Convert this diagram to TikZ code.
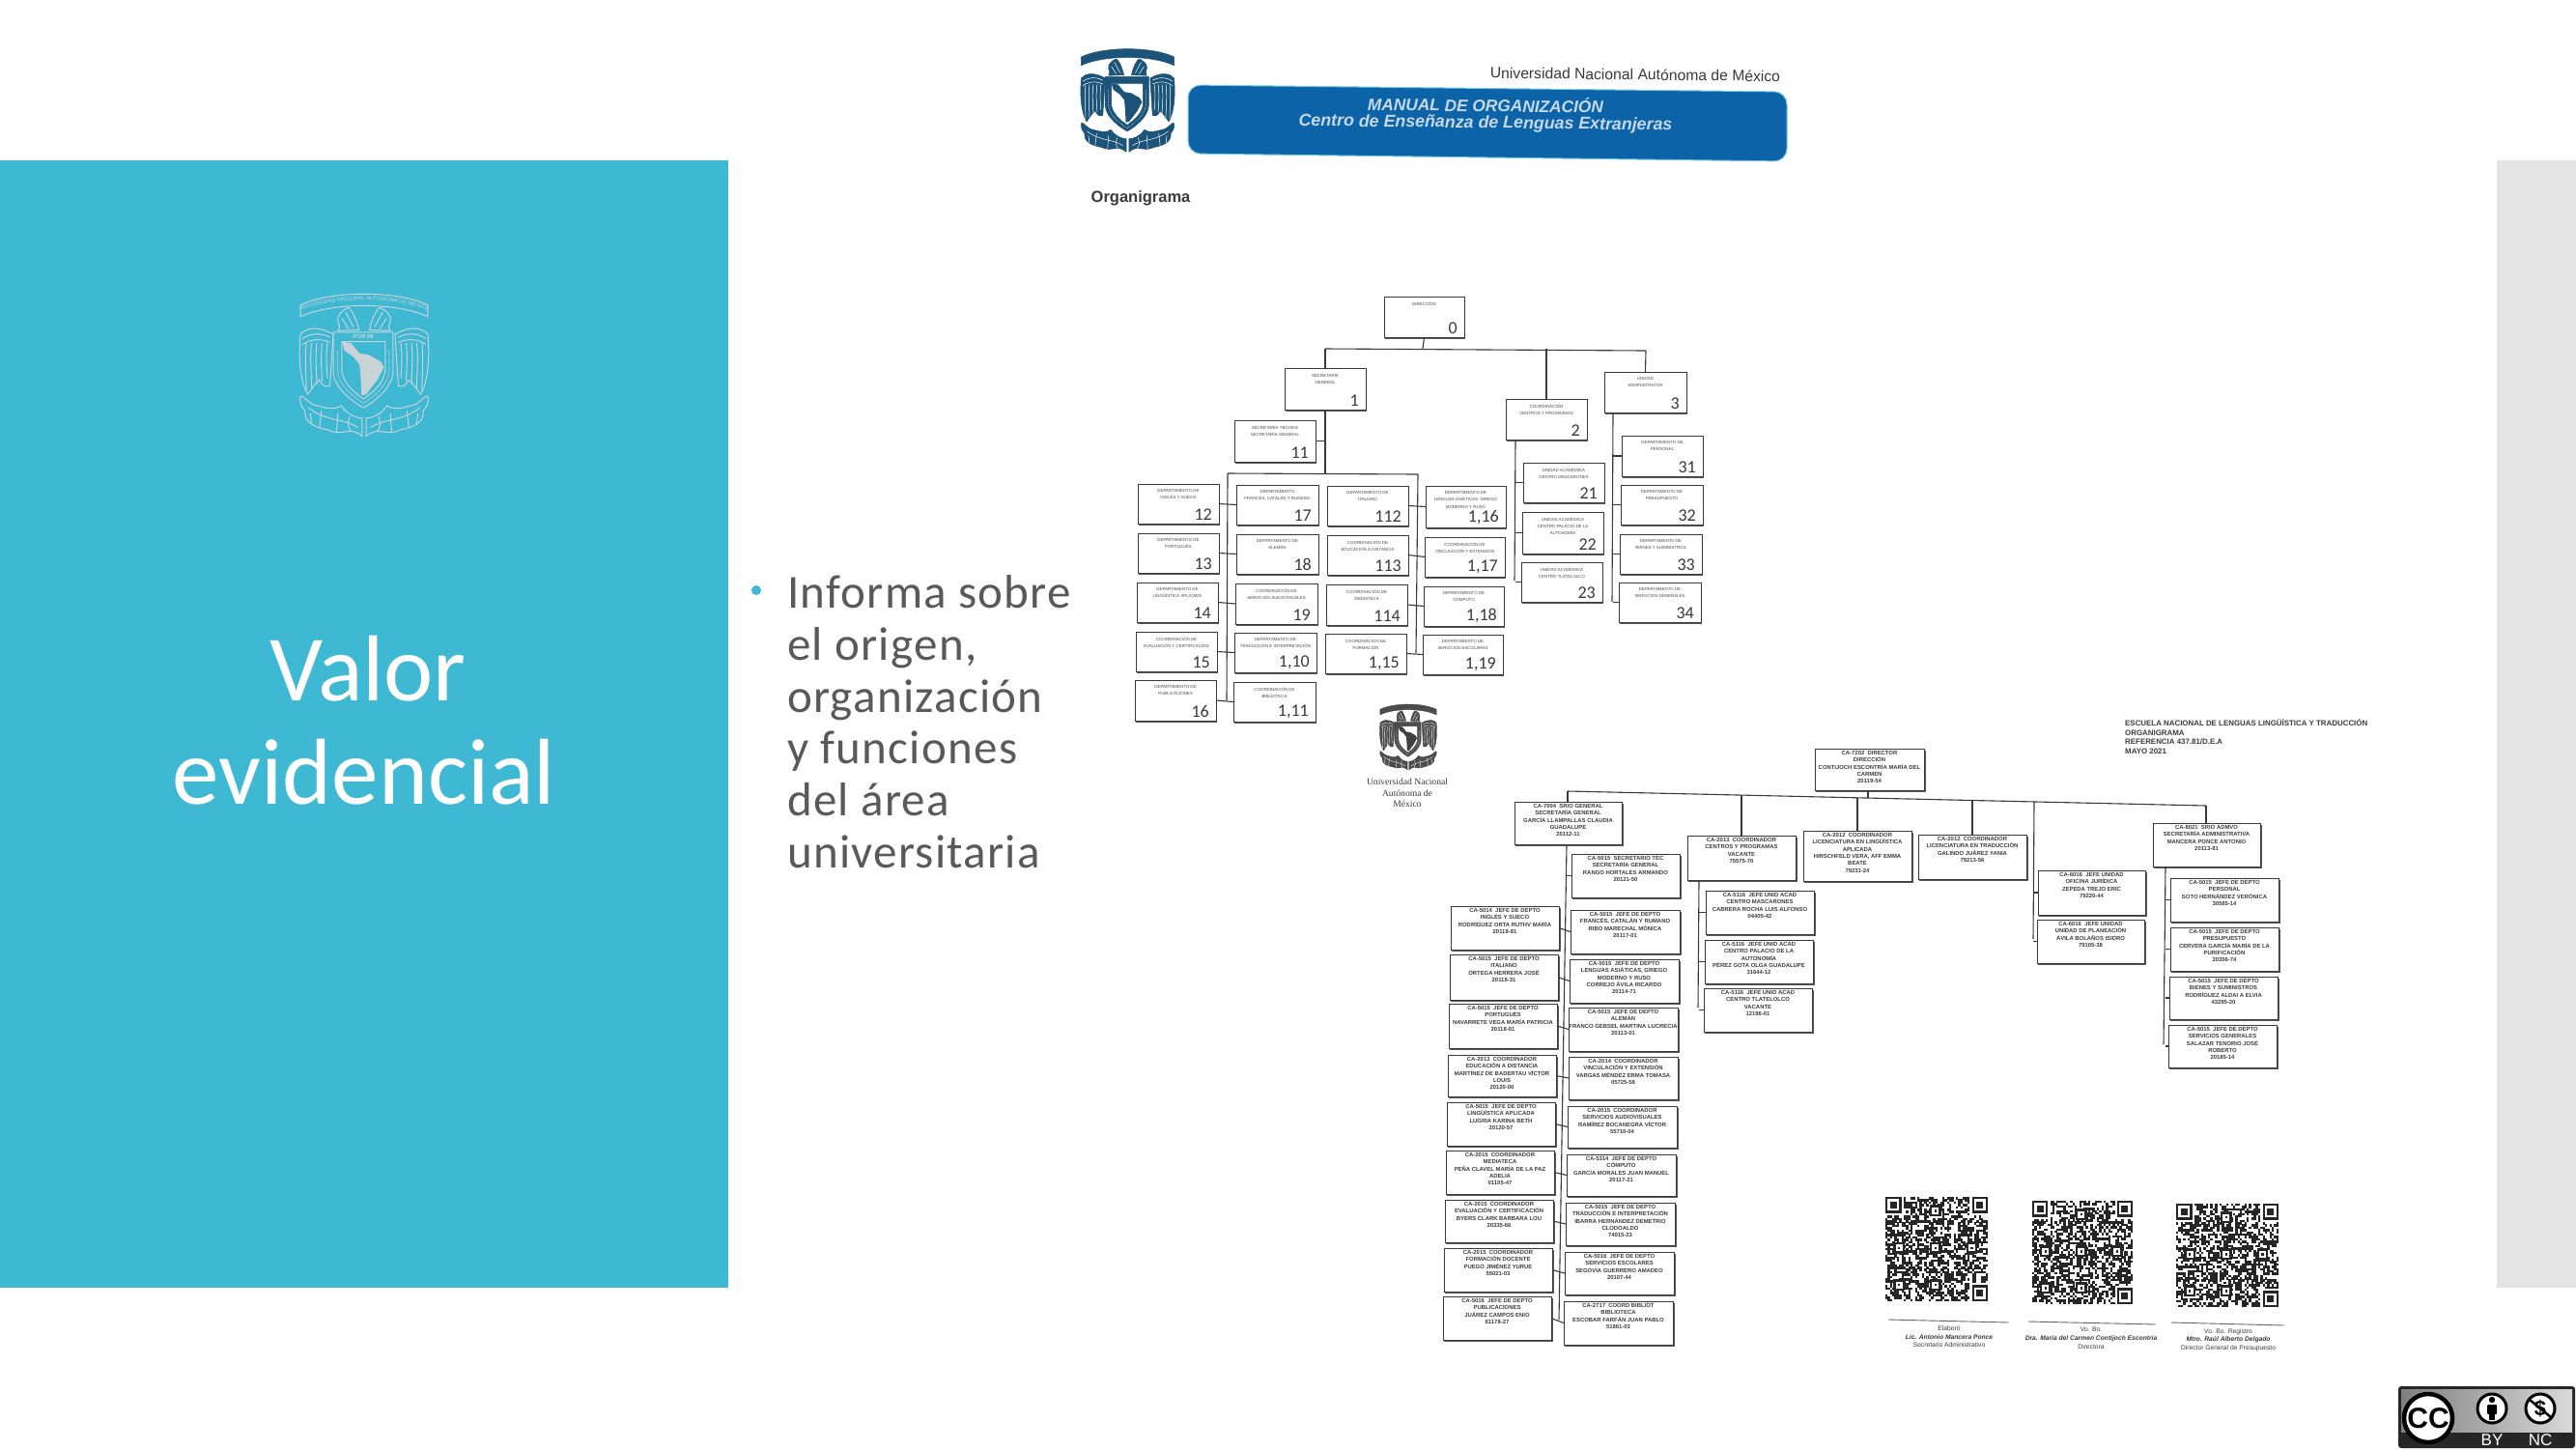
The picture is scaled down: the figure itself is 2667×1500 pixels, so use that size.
\documentclass[tikz,border=0pt]{standalone}
\usepackage{fontspec}
\setmainfont{Liberation Sans}
\newfontfamily\slidefont{Carlito}
\newfontfamily\bodyfont[LetterSpace=2.6]{Carlito}
\newfontfamily\seriffont{Liberation Serif}
\usetikzlibrary{decorations.text}
\definecolor{teal1}{HTML}{3FB8D4}
\definecolor{sidegrey}{HTML}{E3E3E3}
\definecolor{bodygrey}{HTML}{595959}
\definecolor{bannerblue}{HTML}{0D63A8}
\definecolor{bannertext}{HTML}{C4D8E8}
\definecolor{crestnavy}{HTML}{1C5378}
\definecolor{crestpale}{HTML}{C8D3D6}
\definecolor{inkk}{HTML}{3A3A3A}
\definecolor{toptext}{HTML}{4A4A4A}
\definecolor{btmtext}{HTML}{3C3C3C}
\tikzset{
  orgbox/.style={draw=inkk,line width=0.9pt,fill=white,rectangle,inner sep=0pt,outer sep=0pt},
  topedge/.style={fill=inkk!85},
  conn/.style={draw=inkk,line width=1.1pt},
  toplabel/.style={align=center,text=toptext,font=\fontsize{4.4}{7.4}\selectfont,inner sep=0pt},
  btmlabel/.style={align=center,text=btmtext,font=\bfseries\fontsize{5.9}{7.3}\selectfont,inner sep=0pt},
  handnum/.style={text=inkk,font=\slidefont\fontsize{18}{18}\selectfont,inner sep=0pt},
  bodyline/.style={anchor=base west,text=bodygrey,font=\bodyfont\fontsize{49}{49}\selectfont,inner sep=0pt},
  titleline/.style={anchor=base,text=white,font=\slidefont\fontsize{97}{97}\selectfont,inner sep=0pt},
  signline/.style={draw=black!60,line width=0.9pt},
  signtext/.style={align=center,text=inkk,font=\fontsize{6.7}{8.9}\selectfont,inner sep=0pt},
}
% name x1 y1 x2 y2 label number
\newcommand{\tbox}[7]{%
  \fill[topedge] ({#2+1.2},{#3+1.5}) rectangle ({#4+1.2},{#5+1.8});
  \node[orgbox,minimum width={(#4-#2)*1pt},minimum height={(#5-#3)*1pt}] (#1) at ({(#2+#4)/2},{(#3+#5)/2}) {};
  \node[toplabel,anchor=north] (#1-t) at ([yshift=-5pt]#1.north) {#6};
  \node[handnum,anchor=south east] (#1-n) at ([shift={(-7pt,3pt)}]#1.south east) {#7};
}
\newcommand{\bbox}[6]{%
  \fill[topedge] ({#2+1.3},{#3+1.5}) rectangle ({#4+1.6},{#5+2.2});
  \node[orgbox,minimum width={(#4-#2)*1pt},minimum height={(#5-#3)*1pt}] (#1) at ({(#2+#4)/2},{(#3+#5)/2}) {};
  \node[btmlabel,anchor=north] (#1-t) at ([yshift=-2.2pt]#1.north) {#6};
}
% cx cy hw hh fg bg wingfill featherline lw
\newcommand{\unamcrest}[9]{%
\begin{scope}[shift={(#1,#2)},x=#3pt,y=-#4pt,line width=#9pt,line join=round]
  % banner
  \filldraw[draw=#5,fill=#7] (-0.97,-0.82) .. controls (-0.5,-1.02) and (0.5,-1.02) .. (0.97,-0.82)
     -- (0.97,-0.66) .. controls (0.5,-0.86) and (-0.5,-0.86) .. (-0.97,-0.66) -- cycle;
  \foreach \sgn in {1,-1}{
  \begin{scope}[xscale=\sgn]
    % wing
    \filldraw[draw=#5,fill=#7] (0.47,-0.42) .. controls (0.72,-0.55) and (0.9,-0.5) .. (0.97,-0.42)
       .. controls (1.0,-0.1) and (0.98,0.2) .. (0.86,0.4)
       .. controls (0.78,0.3) and (0.72,0.22) .. (0.68,0.2)
       .. controls (0.62,0.3) and (0.58,0.3) .. (0.52,0.28) -- cycle;
    \foreach \fx/\fy in {0.56/0.18,0.64/0.22,0.72/0.26,0.80/0.32,0.88/0.34}
      \draw[#8] (\fx,-0.3) .. controls (\fx+0.03,-0.05) and (\fx,0.1) .. (\fx,\fy);
    \draw[#8] (0.52,-0.38) .. controls (0.7,-0.46) and (0.85,-0.42) .. (0.94,-0.36);
    \draw[#8] (0.52,-0.31) .. controls (0.7,-0.38) and (0.85,-0.34) .. (0.94,-0.28);
    % birds' heads
    \filldraw[draw=#5,fill=#7] (0.08,-0.48) .. controls (0.12,-0.66) and (0.22,-0.8) .. (0.25,-0.78)
       .. controls (0.34,-0.74) and (0.42,-0.68) .. (0.4,-0.6) .. controls (0.38,-0.54) and (0.36,-0.52) .. (0.4,-0.47) -- cycle;
    \draw[#8] (0.16,-0.52) -- (0.28,-0.72);
    \draw[#8] (0.24,-0.5) -- (0.34,-0.64);
    % wreath
    \filldraw[draw=#5,fill=#7] (0.03,0.97) .. controls (0.2,0.82) and (0.35,0.98) .. (0.55,0.88)
       .. controls (0.75,0.85) and (0.92,0.78) .. (0.9,0.62)
       .. controls (0.98,0.55) and (1.0,0.42) .. (0.95,0.42)
       .. controls (0.85,0.48) and (0.8,0.55) .. (0.72,0.55)
       .. controls (0.6,0.58) and (0.45,0.62) .. (0.35,0.55)
       .. controls (0.25,0.68) and (0.12,0.72) .. (0.03,0.72) -- cycle;
    \draw[#8] (0.1,0.85) .. controls (0.3,0.72) and (0.55,0.78) .. (0.85,0.58);
    \draw[#8] (0.4,0.66) -- (0.42,0.92);
    \draw[#8] (0.65,0.62) -- (0.68,0.85);
    \draw[#8] (0.22,0.7) .. controls (0.26,0.8) and (0.24,0.86) .. (0.2,0.9);
    \draw[#8] (0.82,0.66) -- (0.8,0.8);
  \end{scope}}
  % shield
  \filldraw[draw=#5,fill=#7] (-0.47,-0.45) -- (0.44,-0.45) -- (0.44,0.1) .. controls (0.42,0.32) and (0.15,0.5) .. (-0.01,0.58)
     .. controls (-0.17,0.5) and (-0.45,0.32) .. (-0.47,0.1) -- cycle;
  \draw[#8,densely dotted] (-0.405,-0.2) -- (-0.405,0.09) .. controls (-0.385,0.28) and (-0.15,0.44) .. (-0.01,0.52)
     .. controls (0.13,0.44) and (0.36,0.28) .. (0.38,0.09) -- (0.38,-0.2);
  \filldraw[draw=#5,fill=#6] (-0.34,-0.32) -- (0.32,-0.32) -- (0.32,0.08) .. controls (0.3,0.25) and (0.12,0.38) .. (-0.01,0.46)
     .. controls (-0.14,0.38) and (-0.32,0.25) .. (-0.34,0.08) -- cycle;
  % continent
  \fill[#5] (-0.34,-0.32) -- (-0.2,-0.3) -- (-0.07,-0.16) -- (0.07,-0.14) -- (0.25,-0.05) -- (0.3,0.03)
     -- (0.2,0.2) -- (0.03,0.4) -- (-0.04,0.41) -- (-0.05,0.2) -- (-0.07,-0.01) -- (-0.17,-0.12) -- (-0.3,-0.2) -- cycle;
\end{scope}}
\newcommand{\qrfinder}[2]{%
  \fill[white] ({#1-1},{#2-1}) rectangle ++(9,9);
  \fill[black!85] (#1,#2) rectangle ++(7,7);
  \fill[white] ({#1+1},{#2+1}) rectangle ++(5,5);
  \fill[black!85] ({#1+2},{#2+2}) rectangle ++(3,3);}
\newcommand{\qralign}[2]{%
  \fill[black!85] ({#1-2.5},{#2-2.5}) rectangle ++(5,5);
  \fill[white] ({#1-1.5},{#2-1.5}) rectangle ++(3,3);
  \fill[black!85] ({#1-0.5},{#2-0.5}) rectangle ++(1,1);}
\newcommand{\qrcodeblock}[5]{%
\pgfmathsetlengthmacro{\qrw}{(#3-#1)/45*1pt}%
\pgfmathsetlengthmacro{\qrh}{(#4-#2)/45*1pt}%
\begin{scope}[shift={(#1,#2)},x=\qrw,y=-\qrh]
  \pgfmathsetseed{#5}
  \foreach \rr in {0,...,44}{
    \foreach \cc in {0,...,44}{
      \pgfmathparse{rnd<0.54?1:0}
      \ifnum\pgfmathresult=1
        \fill[black!85] (\cc,\rr) rectangle ++(1.04,1.04);
      \fi
    }}
  \qrfinder{0}{0}\qrfinder{38}{0}\qrfinder{38}{38}
  \foreach \ax/\ay in {6/22,22/6,22/22,38/22,22/38,6/38}{\qralign{\ax}{\ay}}
\end{scope}}
\begin{document}
\begin{tikzpicture}[x=1pt,y=-1pt]
\useasboundingbox (0,0) rectangle (2667,1500);
\fill[white] (0,0) rectangle (2667,1500);
% slide panels
\fill[teal1] (0,166) rectangle (754,1333);
\fill[sidegrey] (2585,166) rectangle (2667,1333);
% white crest on teal panel
\unamcrest{377}{378}{68}{76}{crestpale}{teal1}{teal1}{crestpale}{1}
\draw[decorate,decoration={text along path,text align=center,text={|\fontsize{5.6}{5.6}\selectfont\color{crestpale}|UNIVERSIDAD NACIONAL AUTONOMA DE MEXICO}}] (310,322) .. controls (345,307) and (410,307) .. (444,322);
\node[text=crestpale,font=\bfseries\fontsize{6}{6}\selectfont,inner sep=0pt] (crestmotto) at (376,348) {POR MI};
% title
\node[titleline] (title1) at (381,725) {Valor};
\node[titleline] (title2) at (377,832) {evidencial};
% bullet
\fill[teal1] (783,611) circle (5);
\node[bodyline] (b1) at (815,629) {Informa sobre};
\node[bodyline] (b2) at (815,683) {el origen,};
\node[bodyline] (b3) at (815,737) {organización};
\node[bodyline] (b4) at (815,790) {y funciones};
\node[bodyline] (b5) at (815,844) {del área};
\node[bodyline] (b6) at (815,898) {universitaria};
% header
\unamcrest{1167.5}{104}{49.5}{55}{crestnavy}{white}{crestnavy}{white}{0.5}
\filldraw[draw=teal1!70,fill=bannerblue,line width=1pt,rounded corners=13pt] (1230,88) -- (1850,95) -- (1850,167) -- (1230,159) -- cycle;
\node[text=inkk,rotate=-0.7,font=\fontsize{15.7}{15.7}\selectfont,inner sep=0pt] (unamhead) at (1693,77) {Universidad Nacional Autónoma de México};
\node[text=bannertext,rotate=-0.7,font=\bfseries\itshape\fontsize{17.3}{17.3}\selectfont,inner sep=0pt] (manual) at (1538,108) {MANUAL DE ORGANIZACIÓN};
\node[text=bannertext,rotate=-0.7,font=\bfseries\itshape\fontsize{17.8}{17.8}\selectfont,inner sep=0pt] (centro) at (1538,128) {Centro de Enseñanza de Lenguas Extranjeras};
\node[text=inkk,font=\bfseries\fontsize{16.5}{16.5}\selectfont,inner sep=0pt] (organi) at (1181,205) {Organigrama};
% ---------- upper chart ----------
\tbox{dir}{1433}{307}{1516}{349}{DIRECCIÓN}{0}
\tbox{sg}{1330}{381}{1414}{424}{SECRETARÍA\\GENERAL}{1}
\tbox{cp}{1559}{413}{1643}{455}{COORDINACIÓN\\CENTROS Y PROGRAMAS}{2}
\tbox{ua}{1661}{385}{1746}{427}{UNIDAD\\ADMINISTRATIVA}{3}
\tbox{st}{1278}{435}{1362}{478}{SECRETARÍA TÉCNICA\\SECRETARÍA GENERAL}{11}
\tbox{a1}{1178}{501}{1262}{542}{DEPARTAMENTO DE\\INGLÉS Y SUECO}{12}
\tbox{a2}{1178}{552}{1262}{593}{DEPARTAMENTO DE\\PORTUGUÉS}{13}
\tbox{a3}{1177}{603}{1261}{644}{DEPARTAMENTO DE\\LINGÜÍSTICA APLICADA}{14}
\tbox{a4}{1176}{654}{1260}{695}{COORDINACIÓN DE\\EVALUACIÓN Y CERTIFICACIÓN}{15}
\tbox{a5}{1175}{704}{1259}{746}{DEPARTAMENTO DE\\PUBLICACIONES}{16}
\tbox{e1}{1280}{502}{1365}{543}{DEPARTAMENTO\\FRANCÉS, CATALÁN Y RUMANO}{17}
\tbox{e2}{1280}{553}{1365}{594}{DEPARTAMENTO DE\\ALEMÁN}{18}
\tbox{e3}{1279}{604}{1364}{646}{COORDINACIÓN DE\\SERVICIOS AUDIOVISUALES}{19}
\tbox{e4}{1278}{655}{1363}{696}{DEPARTAMENTO DE\\TRADUCCIÓN E INTERPRETACIÓN}{1,10}
\tbox{e5}{1277}{706}{1362}{747}{COORDINACIÓN DE\\BIBLIOTECA}{1,11}
\tbox{f1}{1374}{503}{1458}{544}{DEPARTAMENTO DE\\ITALIANO}{112}
\tbox{f2}{1374}{554}{1458}{595}{COORDINACIÓN DE\\EDUCACIÓN A DISTANCIA}{113}
\tbox{f3}{1373}{605}{1457}{647}{COORDINACIÓN DE\\MEDIATECA}{114}
\tbox{f4}{1372}{656}{1456}{697}{COORDINACIÓN DE\\FORMACIÓN}{1,15}
\tbox{g1}{1476}{503}{1559}{546}{DEPARTAMENTO DE\\LENGUAS ASIÁTICAS, GRIEGO\\MODERNO Y RUSO}{1,16}
\tbox{g2}{1475}{556}{1558}{597}{COORDINACIÓN DE\\VINCULACIÓN Y EXTENSIÓN}{1,17}
\tbox{g3}{1474}{607}{1557}{648}{DEPARTAMENTO DE\\CÓMPUTO}{1,18}
\tbox{g4}{1473}{657}{1556}{698}{DEPARTAMENTO DE\\SERVICIOS ESCOLARES}{1,19}
\tbox{h1}{1577}{479}{1661}{520}{UNIDAD ACADÉMICA\\CENTRO MASCARONES}{21}
\tbox{h2}{1576}{530}{1660}{573}{UNIDAD ACADÉMICA\\CENTRO PALACIO DE LA\\AUTONOMÍA}{22}
\tbox{h3}{1575}{582}{1659}{623}{UNIDAD ACADÉMICA\\CENTRO TLATELOLCO}{23}
\tbox{j1}{1679}{451}{1763}{493}{DEPARTAMENTO DE\\PERSONAL}{31}
\tbox{j2}{1678}{502}{1763}{543}{DEPARTAMENTO DE\\PRESUPUESTO}{32}
\tbox{j3}{1677}{553}{1762}{594}{DEPARTAMENTO DE\\BIENES Y SUMINISTROS}{33}
\tbox{j4}{1676}{603}{1761}{644}{DEPARTAMENTO DE\\SERVICIOS GENERALES}{34}
\coordinate (bus1) at (1473,361);
\coordinate (busL) at (1372,361);
\coordinate (busR) at (1704,363);
\draw[conn] (dir.south) -- (bus1);
\draw[conn] (busL) -- (busR);
\draw[conn] (busL) -- (sg.north);
\draw[conn] (bus1 -| cp.north) -- (cp.north);
\draw[conn] (busR) -- (ua.north);
\coordinate (busA) at (1372,490);
\coordinate (busAL) at (1271,490);
\coordinate (busAR) at (1468,491);
\coordinate (endAL) at (1270,725);
\coordinate (endAR) at (1466,676);
\draw[conn] (sg.south) -- (busA);
\draw[conn] (st.east) -- (st.east -| busA);
\draw[conn] (busAL) -- (busAR);
\draw[conn] (busAL) -- (endAL);
\draw[conn] (busAR) -- (endAR);
\foreach \pl/\pr in {a1/e1,a2/e2,a3/e3,a4/e4,a5/e5,f1/g1,f2/g2,f3/g3,f4/g4}
  \draw[conn] (\pl.east) -- (\pr.west);
\coordinate (spCtop) at (1569,455);
\coordinate (spCend) at (1568,601);
\draw[conn] (spCtop) -- (spCend);
\foreach \kk in {h1,h2,h3}
  \draw[conn] (\kk.west -| spCtop) -- (\kk.west);
\coordinate (spUtop) at (1670,427);
\coordinate (spUend) at (1669,623);
\draw[conn] (spUtop) -- (spUend);
\foreach \kk in {j1,j2,j3,j4}
  \draw[conn] (\kk.west -| spUtop) -- (\kk.west);
% centre crest
\unamcrest{1458}{763}{30}{35}{black!75}{white}{black!70}{white}{0.35}
\node[align=center,text=inkk,font=\seriffont\fontsize{9.6}{11.6}\selectfont,inner sep=0pt] (uncap) at (1457,821) {Universidad Nacional\\Autónoma de\\México};
% ---------- lower chart ----------
\node[anchor=north west,align=left,text=btmtext,font=\bfseries\fontsize{7.9}{9.8}\selectfont,inner sep=0pt] (enallt) at (2200,744) {ESCUELA NACIONAL DE LENGUAS LINGÜÍSTICA Y TRADUCCIÓN\\ORGANIGRAMA\\REFERENCIA 437.81/D.E.A\\MAYO 2021};
\bbox{d0}{1879}{775}{1992}{818}{CA-7202 \ DIRECTOR\\DIRECCIÓN\\CONTIJOCH ESCONTRÍA MARÍA DEL\\CARMEN\\20119-54}
\bbox{sgb}{1568}{830}{1679}{874}{CA-7004 \ SRIO GENERAL\\SECRETARÍA GENERAL\\GARCÍA LLAMPALLAS CLAUDIA\\GUADALUPE\\20112-11}
\bbox{cpb}{1747}{865}{1859}{911}{CA-2013 \ COORDINADOR\\CENTROS Y PROGRAMAS\\VACANTE\\75575-70}
\bbox{lin}{1867}{860}{1979}{912}{CA-2012 \ COORDINADOR\\LICENCIATURA EN LINGÜÍSTICA\\APLICADA\\HIRSCHFELD VERA, AFF EMMA\\BEATE\\79231-24}
\bbox{tra}{1986}{864}{2098}{910}{CA-2012 \ COORDINADOR\\LICENCIATURA EN TRADUCCIÓN\\GALINDO JUÁREZ YANIA\\79213-56}
\bbox{ofi}{2110}{901}{2221}{947}{CA-6016 \ JEFE UNIDAD\\OFICINA JURÍDICA\\ZEPEDA TREJO ERIC\\79220-44}
\bbox{pla}{2109}{952}{2220}{997}{CA-6016 \ JEFE UNIDAD\\UNIDAD DE PLANEACIÓN\\ÁVILA BOLAÑOS ISIDRO\\79105-38}
\bbox{adm}{2229}{852}{2340}{897}{CA-8021 \ SRIO ADMVO\\SECRETARÍA ADMINISTRATIVA\\MANCERA PONCE ANTONIO\\20113-81}
\bbox{pe}{2247}{909}{2359}{954}{CA-5015 \ JEFE DE DEPTO\\PERSONAL\\SOTO HERNÁNDEZ VERÓNICA\\30585-14}
\bbox{pr}{2247}{960}{2359}{1005}{CA-5015 \ JEFE DE DEPTO\\PRESUPUESTO\\CERVERA GARCÍA MARÍA DE LA\\PURIFICACIÓN\\20356-74}
\bbox{bs}{2246}{1011}{2358}{1055}{CA-5015 \ JEFE DE DEPTO\\BIENES Y SUMINISTROS\\RODRÍGUEZ ALDAI A ELVIA\\43295-20}
\bbox{sv}{2245}{1061}{2357}{1105}{CA-5015 \ JEFE DE DEPTO\\SERVICIOS GENERALES\\SALAZAR TENORIO JOSÉ\\ROBERTO\\20185-14}
\bbox{k1}{1766}{922}{1878}{967}{CA-5116 \ JEFE UNID ACAD\\CENTRO MASCARONES\\CABRERA ROCHA LUIS ALFONSO\\04405-42}
\bbox{k2}{1765}{973}{1877}{1018}{CA-5116 \ JEFE UNID ACAD\\CENTRO PALACIO DE LA\\AUTONOMÍA\\PÉREZ GOTA OLGA GUADALUPE\\31644-12}
\bbox{k3}{1764}{1023}{1876}{1068}{CA-5116 \ JEFE UNID ACAD\\CENTRO TLATELOLCO\\VACANTE\\12196-01}
\bbox{st2}{1627}{884}{1739}{929}{CA-5015 \ SECRETARIO TEC\\SECRETARÍA GENERAL\\RANGO HORTALES ARMANDO\\20121-50}
\bbox{c1}{1626}{942}{1739}{987}{CA-5015 \ JEFE DE DEPTO\\FRANCÉS, CATALÁN Y RUMANO\\RIBO MARECHAL MÓNICA\\20117-01}
\bbox{c2}{1625}{993}{1738}{1038}{CA-5015 \ JEFE DE DEPTO\\LENGUAS ASIÁTICAS, GRIEGO\\MODERNO Y RUSO\\CORREJO ÁVILA RICARDO\\20114-71}
\bbox{c3}{1624}{1043}{1737}{1088}{CA-5015 \ JEFE DE DEPTO\\ALEMÁN\\FRANCO GEBSEL MARTINA LUCRECIA\\20113-01}
\bbox{c4}{1624}{1094}{1737}{1138}{CA-2014 \ COORDINADOR\\VINCULACIÓN Y EXTENSIÓN\\VARGAS MÉNDEZ ERMA TOMASA\\05725-58}
\bbox{c5}{1623}{1145}{1736}{1188}{CA-2015 \ COORDINADOR\\SERVICIOS AUDIOVISUALES\\RAMÍREZ BOCANEGRA VÍCTOR\\55710-04}
\bbox{c6}{1622}{1195}{1735}{1238}{CA-5314 \ JEFE DE DEPTO\\CÓMPUTO\\GARCÍA MORALES JUAN MANUEL\\20117-21}
\bbox{c7}{1621}{1245}{1734}{1289}{CA-5015 \ JEFE DE DEPTO\\TRADUCCIÓN E INTERPRETACIÓN\\IBARRA HERNÁNDEZ DEMETRIO\\CLODOALDO\\74015-23}
\bbox{c8}{1620}{1296}{1733}{1340}{CA-5016 \ JEFE DE DEPTO\\SERVICIOS ESCOLARES\\SEGOVIA GUERRERO AMADEO\\20107-44}
\bbox{c9}{1619}{1347}{1732}{1392}{CA-2717 \ COORD BIBLIOT\\BIBLIOTECA\\ESCOBAR FARFÁN JUAN PABLO\\51861-03}
\bbox{l1}{1502}{938}{1614}{983}{CA-5014 \ JEFE DE DEPTO\\INGLÉS Y SUECO\\RODRÍGUEZ ORTA RUTHV MARÍA\\20118-81}
\bbox{l2}{1501}{988}{1613}{1035}{CA-5015 \ JEFE DE DEPTO\\ITALIANO\\ORTEGA HERRERA JOSÉ\\20118-31}
\bbox{l3}{1500}{1039}{1612}{1085}{CA-5015 \ JEFE DE DEPTO\\PORTUGUÉS\\NAVARRETE VEGA MARÍA PATRICIA\\20118-01}
\bbox{l4}{1499}{1092}{1611}{1135}{CA-2013 \ COORDINADOR\\EDUCACIÓN A DISTANCIA\\MARTÍNEZ DE BADERTAU VÍCTOR\\LOUIS\\20120-00}
\bbox{l5}{1498}{1141}{1610}{1186}{CA-5015 \ JEFE DE DEPTO\\LINGÜÍSTICA APLICADA\\LUGRIA KARINA BETH\\20120-57}
\bbox{l6}{1497}{1191}{1609}{1236}{CA-2015 \ COORDINADOR\\MEDIATECA\\PEÑA CLAVEL MARÍA DE LA PAZ\\ADELIA\\01105-47}
\bbox{l7}{1496}{1242}{1608}{1286}{CA-2015 \ COORDINADOR\\EVALUACIÓN Y CERTIFICACIÓN\\BYERS CLARK BARBARA LOU\\20335-66}
\bbox{l8}{1495}{1292}{1607}{1337}{CA-2015 \ COORDINADOR\\FORMACIÓN DOCENTE\\PUEGO JIMÉNEZ YURUE\\55021-03}
\bbox{l9}{1494}{1342}{1606}{1387}{CA-5016 \ JEFE DE DEPTO\\PUBLICACIONES\\JUÁREZ CAMPOS ENIO\\61178-27}
\coordinate (lbusL) at (1623,819);
\coordinate (lstem) at (1934,826);
\coordinate (lbusR) at (2284,834);
\coordinate (ld2) at (1803,823);
\coordinate (ld3) at (1923,826);
\coordinate (ld4) at (2042,829);
\coordinate (ld5) at (2106,830);
\draw[conn] (lbusL) -- (lbusR);
\draw[conn] (d0.south -| lstem) -- (lstem);
\draw[conn] (lbusL) -- (sgb.north -| lbusL);
\draw[conn] (ld2) -- (cpb.north -| ld2);
\draw[conn] (ld3) -- (lin.north -| ld3);
\draw[conn] (ld4) -- (tra.north -| ld4);
\draw[conn] (lbusR) -- (adm.north -| lbusR);
\coordinate (ld5end) at (2105,972);
\draw[conn] (ld5) -- (ld5end);
\draw[conn] (ofi.west -| ld5) -- (ofi.west);
\draw[conn] (pla.west -| ld5end) -- (pla.west);
\coordinate (spAd) at (2242,897);
\coordinate (spAe) at (2240,1081);
\draw[conn] (spAd) -- (spAe);
\foreach \kk in {pe,pr,bs,sv}
  \draw[conn] (\kk.west -| spAd) -- (\kk.west);
\coordinate (spCb) at (1759,911);
\coordinate (spCe) at (1758,1043);
\draw[conn] (spCb) -- (spCe);
\foreach \kk in {k1,k2,k3}
  \draw[conn] (\kk.west -| spCb) -- (\kk.west);
\coordinate (spS) at (1622,874);
\coordinate (spSe) at (1614,1366);
\draw[conn] (spS) -- (spSe);
\draw[conn] (st2.west -| spS) -- (st2.west);
\foreach \pl/\pr in {l1/c1,l2/c2,l3/c3,l4/c4,l5/c5,l6/c6,l7/c7,l8/c8,l9/c9}
  \draw[conn] (\pl.east) -- (\pr.west);
% QR blocks
\qrcodeblock{1952}{1239}{2058}{1347}{11}
\qrcodeblock{2104}{1243}{2208}{1350}{27}
\qrcodeblock{2253}{1246}{2359}{1353}{53}
% signatures
\coordinate (s1a) at (1955,1366); \coordinate (s1b) at (2080,1369);
\coordinate (s2a) at (2100,1368); \coordinate (s2b) at (2232,1371);
\coordinate (s3a) at (2248,1369); \coordinate (s3b) at (2365,1372);
\draw[signline] (s1a) -- (s1b);
\draw[signline] (s2a) -- (s2b);
\draw[signline] (s3a) -- (s3b);
\node[signtext,anchor=north] (sg1) at (2018,1372) {Elaboró\\{\bfseries\itshape Lic. Antonio Mancera Ponce}\\Secretario Administrativo};
\node[signtext,anchor=north] (sg2) at (2165,1374) {Vo. Bo.\\{\bfseries\itshape Dra. María del Carmen Contijoch Escontria}\\Directora};
\node[signtext,anchor=north] (sg3) at (2307,1375) {Vo. Bo. Registro\\{\bfseries\itshape Mtro. Raúl Alberto Delgado}\\Director General de Presupuesto};
% CC badge
\fill[black!85,rounded corners=3pt] (2483,1435) rectangle (2666,1499);
\shade[left color=black!50,right color=black!15] (2486,1438) rectangle (2663,1483);
\fill[black!85] (2486,1483) rectangle (2663,1497);
\filldraw[draw=black,fill=white,line width=4.5pt] (2514,1468) circle (25);
\node[font=\bfseries\fontsize{30}{30}\selectfont,text=black,inner sep=0pt] (ccmark) at (2514,1468) {CC};
\filldraw[draw=black,fill=white,line width=3pt] (2580,1458) circle (15);
\fill[black] (2580,1449) circle (3.2);
\fill[black,rounded corners=1pt] (2575,1454) rectangle (2585,1464);
\fill[black] (2577,1463) rectangle (2583,1470);
\filldraw[draw=black,fill=white,line width=3pt] (2630,1458) circle (15);
\node[font=\bfseries\fontsize{22}{22}\selectfont,text=black,inner sep=0pt] (nc-dollar) at (2630,1458) {\$};
\draw[black,line width=2.5pt] (2619,1449) -- (2641,1467);
\node[text=white,font=\fontsize{17}{17}\selectfont,inner sep=0pt] (by) at (2580,1491) {BY};
\node[text=white,font=\fontsize{17}{17}\selectfont,inner sep=0pt] (nc) at (2630,1491) {NC};
\end{tikzpicture}
\end{document}
